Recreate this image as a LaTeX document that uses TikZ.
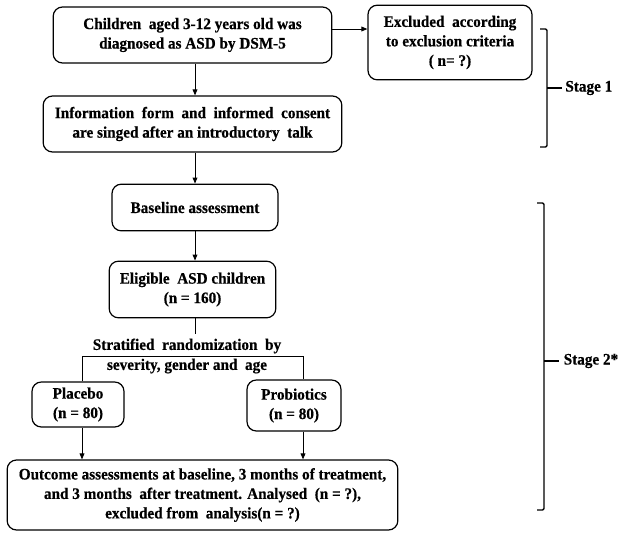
\documentclass[tikz,border=0pt]{standalone}
\usepackage{fontspec}
\setmainfont{Liberation Serif}[FakeStretch=0.95, BoldFeatures={FakeBold=0.5}]
\usetikzlibrary{arrows.meta, calc, positioning}

\begin{document}
\begin{tikzpicture}[% styles used in image code
        x = 0.75pt, y = -0.75pt,
        > = {Triangle[length=4.5pt, width=3.6pt]},
     font = \bfseries\fontsize{12}{14.6}\selectfont,
 box/.style = {draw, line width=0.9pt, rounded corners=7pt,
               align=center, inner sep=0pt},
link/.style = {line width=0.7pt},
brace/.style = {line width=1.1pt, rounded corners=1pt}
                    ]
	\useasboundingbox (0,0) rectangle (625,536);

	% stage 1
	\node[box, minimum width=209pt, minimum height=42pt] (child) at (192.5,35)
	     {Children~ aged 3-12 years old was\\diagnosed as ASD by DSM-5};
	\node[box, minimum width=123pt, minimum height=56pt] (excl) at (450,42.5)
	     {Excluded~ according\\to exclusion criteria\\( n= ?)};
	\node[box, minimum width=224pt, minimum height=42pt] (info) at (192.5,124)
	     {Information~ form~ and~ informed~ consent\\are singed after an introductory~ talk};

	% stage 2
	\node[box, minimum width=124.5pt, minimum height=35pt] (base) at (195,207.5)
	     {Baseline assessment};
	\node[box, minimum width=125pt, minimum height=42.5pt] (elig) at (192.5,289.5)
	     {Eligible~ ASD children\\(n = 160)};
	\node[align=center, font=\bfseries\fontsize{12}{15}\selectfont] (strat) at (187,356)
	     {Stratified~ randomization~ by\\severity, gender and~ age};
	\node[box, minimum width=69pt, minimum height=33.75pt] (plac) at (78,404.5)
	     {Placebo\\(n = 80)};
	\node[box, minimum width=70.5pt, minimum height=38.25pt] (prob) at (294,405.5)
	     {Probiotics\\(n = 80)};
	\node[box, minimum width=293pt, minimum height=52.5pt] (outc) at (202.5,495)
	     {Outcome assessments at baseline, 3 months of treatment,\\
	      and 3 months~ after treatment. Analysed~ (n = ?),\\
	      excluded from~ analysis(n = ?)};

	% connectors
	\coordinate (col) at (195,0);
	\coordinate (sl) at (82,356);
	\coordinate (sr) at (303,356);
	\draw[link,->] ([yshift=4.5pt]child.east) -- ([yshift=4.5pt]child.east -| excl.west);
	\draw[link,->] (child.south -| col) -- (info.north -| col);
	\draw[link,->] (info.south -| col) -- (base.north -| col);
	\draw[link,->] (base.south -| col) -- (elig.north -| col);
	\draw[link] (elig.south -| col) -- (strat.north -| col);
	\draw[link] (sl |- plac.north) -- (sl) -- (sr) -- (sr |- prob.north);
	\draw[link,->] (sl |- plac.south) -- (sl |- outc.north);
	\draw[link,->] (sr |- prob.south) -- (sr |- outc.north);

	% stage brackets
	\coordinate (s1t) at (547,29);
	\coordinate (s1b) at (547,147);
	\coordinate (s1m) at (547,88);
	\draw[brace] ($(s1t)+(-7,0)$) -- (s1t) -- (s1b) -- ++(-7,0);
	\draw[brace] (s1m) -- ++(15,0) node[right, inner sep=2pt] (st1) {Stage 1};

	\coordinate (s2t) at (544,203);
	\coordinate (s2b) at (544,510);
	\coordinate (s2m) at (544,361);
	\draw[brace] ($(s2t)+(-7,0)$) -- (s2t) -- (s2b) -- ++(-7,0);
	\draw[brace] (s2m) -- ++(15,0) node[right, inner sep=3pt] (st2) {Stage 2*};
\end{tikzpicture}
\end{document}
